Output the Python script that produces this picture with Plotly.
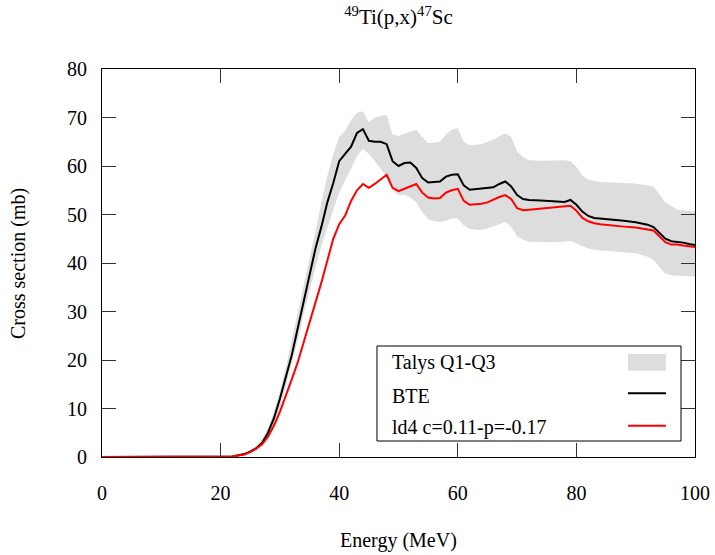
import plotly.graph_objects as go

# ---------------- data ----------------
energy = [0, 20, 22, 24, 25, 26, 27, 28, 29, 30, 31, 32, 33, 34, 35, 36, 37, 38, 39, 40,
          41, 42, 43, 44, 45, 46, 47, 48, 49, 50, 51, 52, 53, 54, 55, 56, 57, 58, 59, 60,
          61, 62, 63, 64, 65, 66, 67, 68, 69, 70, 71, 72, 74, 76, 78, 79, 80, 81, 82, 83,
          84, 86, 88, 90, 92, 93, 94, 95, 96, 97, 98, 99, 100]

bte = [0, 0, 0.1, 0.6, 1.1, 1.8, 2.9, 5.0, 8.0, 12.0, 16.5, 21.0, 26.5, 32.0, 37.5, 43.0, 47.5, 52.5, 56.5, 61.0,
       62.5, 64.0, 66.8, 67.6, 65.2, 65.0, 65.0, 64.5, 61.0, 60.0, 60.6, 60.7, 59.6, 57.5, 56.6, 56.7, 56.8, 57.8, 58.2, 58.3,
       56.0, 55.1, 55.2, 55.3, 55.4, 55.6, 56.3, 56.8, 55.8, 54.0, 53.2, 53.0, 52.9, 52.8, 52.6, 53.0, 52.0, 50.6, 49.7, 49.3,
       49.2, 49.0, 48.7, 48.4, 47.9, 47.4, 46.3, 45.0, 44.5, 44.4, 44.2, 43.9, 43.7]

ld4 = [0, 0, 0.1, 0.5, 1.0, 1.7, 2.6, 4.2, 6.5, 9.3, 12.5, 16.0, 19.5, 23.5, 27.5, 31.5, 36.0, 40.5, 45.0, 48.0,
       49.8, 52.8, 55.0, 56.3, 55.5, 56.3, 57.2, 58.2, 55.5, 54.8, 55.3, 55.8, 56.3, 54.5, 53.5, 53.3, 53.4, 54.5, 55.0, 55.3,
       52.8, 52.0, 52.1, 52.2, 52.5, 53.1, 53.6, 54.0, 53.2, 51.3, 50.9, 51.0, 51.2, 51.5, 51.7, 51.8, 50.8, 49.3, 48.6, 48.2,
       48.0, 47.7, 47.5, 47.3, 47.0, 46.7, 45.5, 44.3, 43.8, 43.8, 43.6, 43.4, 43.3]

talys_q3 = [0, 0, 0.1, 0.8, 1.5, 2.3, 3.8, 6.0, 9.5, 13.5, 18.5, 24.0, 29.5, 35.0, 41.0, 46.5, 52.5, 58.0, 62.5, 66.0,
            67.2, 69.5, 71.0, 71.3, 69.0, 70.0, 70.3, 70.5, 66.5, 66.2, 66.7, 67.0, 67.4, 66.0, 64.7, 64.8, 65.0, 66.5, 67.5, 67.8,
            65.0, 64.3, 64.4, 64.5, 65.0, 65.4, 66.2, 66.7, 66.0, 63.0, 61.8, 61.2, 61.1, 61.1, 61.2, 61.0, 59.8, 58.0, 57.2, 56.9,
            56.7, 56.6, 56.5, 56.4, 56.0, 55.7, 54.2, 52.5, 51.8, 51.0, 50.8, 50.7, 50.6]

talys_q1 = [0, 0, 0.05, 0.5, 0.9, 1.6, 2.6, 4.2, 6.8, 10.0, 14.5, 19.0, 24.0, 29.5, 34.5, 39.0, 43.5, 47.5, 51.0, 54.5,
            57.0, 59.5, 62.0, 63.6, 62.5, 61.0, 59.5, 57.5, 55.0, 54.0, 54.0, 53.5, 52.5, 50.5, 49.0, 48.6, 48.5, 48.7, 49.2, 49.2,
            47.8, 47.0, 46.9, 46.8, 47.1, 47.5, 48.0, 48.5, 47.5, 45.5, 44.8, 44.4, 44.3, 44.3, 44.4, 44.6, 44.0, 43.5, 43.0, 42.8,
            42.6, 42.4, 42.2, 42.0, 41.3, 40.6, 39.2, 37.8, 37.5, 37.4, 37.3, 37.25, 37.2]

legend_labels = ["Talys Q1-Q3", "BTE", "ld4 c=0.11-p=-0.17"]
x_ticks = [0, 20, 40, 60, 80, 100]
y_ticks = [0, 10, 20, 30, 40, 50, 60, 70, 80]

BAND = "#dddddd"
FONT = "Liberation Serif, Times New Roman, Times, serif"

fig = go.Figure()
fig.add_trace(go.Scatter(x=energy, y=talys_q1, mode="lines", line=dict(width=0, color=BAND),
                         showlegend=False, hoverinfo="skip"))
fig.add_trace(go.Scatter(x=energy, y=talys_q3, mode="lines", line=dict(width=0, color=BAND),
                         fill="tonexty", fillcolor=BAND, showlegend=False, name=legend_labels[0]))
fig.add_trace(go.Scatter(x=energy, y=bte, mode="lines", line=dict(width=2, color="black"),
                         showlegend=False, name=legend_labels[1]))
fig.add_trace(go.Scatter(x=energy, y=ld4, mode="lines", line=dict(width=2, color="#ff0000"),
                         showlegend=False, name=legend_labels[2]))

# ---------------- custom gnuplot-like legend (text left, sample right) ----------------
lx0, lx1, ly0, ly1 = 0.4637, 0.9764, 0.0412, 0.2861
fig.add_shape(type="rect", xref="paper", yref="paper", x0=lx0, x1=lx1, y0=ly0, y1=ly1,
              line=dict(color="black", width=1), fillcolor="white", layer="above")
rows_y = [0.2423, 0.1572, 0.0773]
sx0, sx1 = 0.887, 0.951
for lab, yy in zip(legend_labels, rows_y):
    fig.add_annotation(x=0.4857, y=yy, xref="paper", yref="paper", text=lab, showarrow=False,
                       xanchor="left", yanchor="middle", font=dict(family=FONT, size=20, color="black"))
fig.add_shape(type="rect", xref="paper", yref="paper", x0=sx0, x1=sx1, y0=0.2224, y1=0.2655,
              line=dict(width=0), fillcolor=BAND, layer="above")
fig.add_shape(type="line", xref="paper", yref="paper", x0=sx0, x1=sx1, y0=0.1641, y1=0.1641,
              line=dict(color="black", width=2), layer="above")
fig.add_shape(type="line", xref="paper", yref="paper", x0=sx0, x1=sx1, y0=0.0807, y1=0.0807,
              line=dict(color="#ff0000", width=2), layer="above")

# axis titles (plot area spans x 102..695 px, y 69..457 px)
fig.add_annotation(x=0.5, y=(457 - 540) / 388, xref="paper", yref="paper", text="Energy (MeV)",
                   showarrow=False, xanchor="center", yanchor="middle",
                   font=dict(family=FONT, size=20, color="black"))
fig.add_annotation(x=(18 - 102) / 593, y=0.5, xref="paper", yref="paper", text="Cross section (mb)",
                   showarrow=False, textangle=-90, xanchor="center", yanchor="middle",
                   font=dict(family=FONT, size=20, color="black"))

axis_common = dict(showgrid=False, zeroline=False, showline=True, linecolor="black", linewidth=1,
                   ticks="inside", ticklen=14, tickcolor="#333333", tickwidth=1, mirror="ticks",
                   automargin=False,
                   tickfont=dict(family=FONT, size=20, color="black"))

fig.update_layout(
    width=715, height=555,
    margin=dict(l=102, r=20, t=69, b=98, autoexpand=False),
    paper_bgcolor="white", plot_bgcolor="white",
    title=dict(text="<sup>49</sup>Ti(p,x)<sup>47</sup>Sc", x=0.5, xref="paper", xanchor="center",
               y=1 - 17 / 555, yref="container", yanchor="middle",
               font=dict(family=FONT, size=21, color="black")),
    xaxis=dict(range=[0, 100], tickvals=x_ticks, ticklabelstandoff=18, **axis_common),
    yaxis=dict(range=[0, 80], tickvals=y_ticks, ticklabelstandoff=10, **axis_common),
    font=dict(family=FONT, color="black"),
)

fig.write_html("out.html")
